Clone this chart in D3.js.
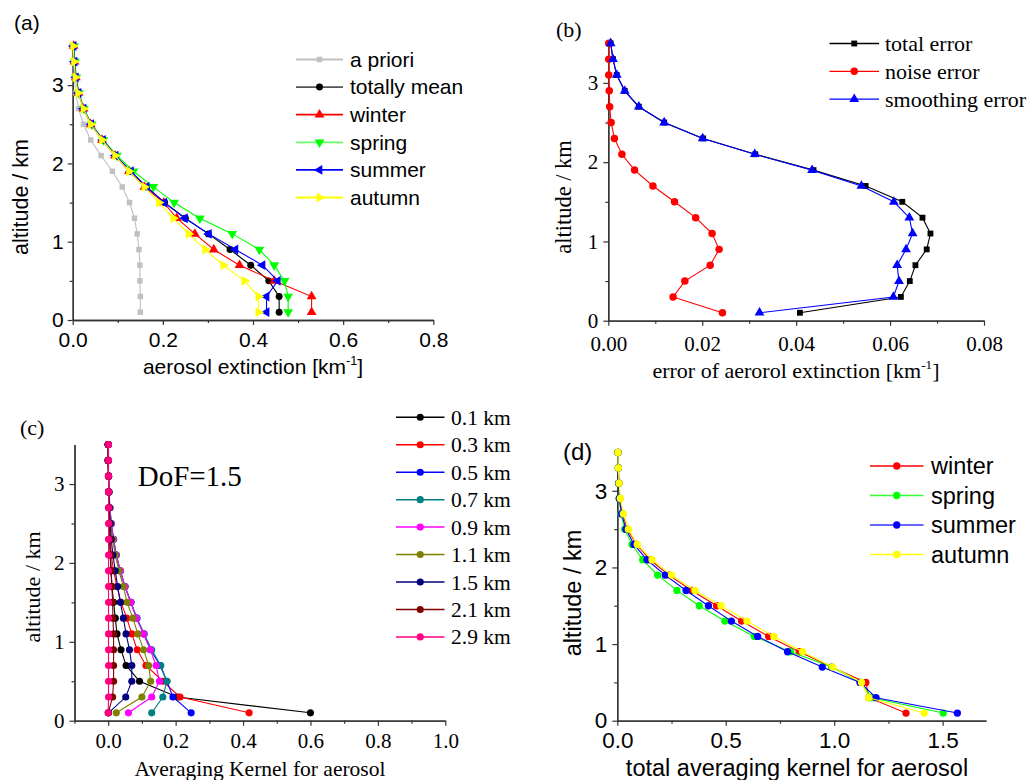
<!DOCTYPE html>
<html><head><meta charset="utf-8">
<script src="https://cdn.jsdelivr.net/npm/d3@7"></script>
<style>body{margin:0;background:#fff}svg{display:block}</style>
</head><body>
<svg id="chart" width="1030" height="780"></svg>
<script>
// ---------- DATA ----------
const altitudes = [0.1,0.3,0.5,0.7,0.9,1.1,1.3,1.5,1.7,1.9,2.1,2.3,2.5,2.7,2.9,3.1,3.3,3.5];

// (a) aerosol extinction [km-1]
const aPriori     = [0.150,0.150,0.149,0.149,0.147,0.143,0.137,0.126,0.110,0.088,0.063,0.040,0.024,0.013,0.007,0.004,0.002,0.001];
const totallyMean = [0.458,0.458,0.435,0.395,0.349,0.301,0.250,0.204,0.164,0.127,0.095,0.067,0.041,0.024,0.013,0.007,0.004,0.002];
const winterExt   = [0.530,0.530,0.447,0.370,0.313,0.271,0.231,0.202,0.159,0.125,0.094,0.065,0.040,0.024,0.013,0.007,0.004,0.002];
const springExt   = [0.478,0.478,0.470,0.447,0.414,0.354,0.282,0.225,0.179,0.135,0.098,0.068,0.042,0.025,0.014,0.008,0.005,0.003];
const summerExt   = [0.430,0.430,0.455,0.421,0.361,0.302,0.249,0.203,0.164,0.129,0.095,0.067,0.041,0.024,0.013,0.007,0.004,0.002];
const autumnExt   = [0.412,0.412,0.381,0.334,0.294,0.257,0.223,0.191,0.159,0.125,0.094,0.065,0.040,0.024,0.012,0.006,0.003,0.001];
const legendA = ["a priori","totally mean","winter","spring","summer","autumn"];

// (b) errors
const totalError     = [0.0408,0.0623,0.0642,0.0654,0.0678,0.0686,0.0669,0.0626,0.0548,0.0437,0.0313,0.0202,0.0119,0.0065,0.0035,0.0018,0.0010,0.0005];
const noiseError     = [0.0243,0.0138,0.0163,0.0217,0.0236,0.0221,0.0186,0.0141,0.0095,0.0056,0.0029,0.0013,0.0006,0.0003,0.0002,0.0001,0.0001,0.0001];
const smoothingError = [0.0322,0.0607,0.0619,0.0615,0.0634,0.0648,0.0641,0.0608,0.0539,0.0434,0.0312,0.0201,0.0119,0.0065,0.0035,0.0018,0.0010,0.0005];
const legendB = ["total error","noise error","smoothing error"];

// (c) averaging kernels
const ak01 = [0.600,0.205,0.093,0.053,0.038,0.026,0.021,0.016,0.011,0.008,0.006,0.004,0.003,0.002,0.001,0.001,0.000,0.000];
const ak03 = [0.418,0.213,0.162,0.112,0.086,0.070,0.055,0.038,0.026,0.016,0.009,0.006,0.004,0.002,0.001,0.001,0.000,0.000];
const ak05 = [0.246,0.192,0.174,0.154,0.126,0.105,0.085,0.067,0.050,0.036,0.024,0.016,0.009,0.005,0.002,0.001,0.000,0.000];
const ak07 = [0.129,0.162,0.174,0.156,0.129,0.107,0.085,0.068,0.050,0.036,0.024,0.016,0.009,0.005,0.002,0.001,0.000,0.000];
const ak09 = [0.060,0.129,0.152,0.142,0.125,0.105,0.083,0.067,0.049,0.036,0.023,0.015,0.009,0.005,0.002,0.001,0.000,0.000];
const ak11 = [0.024,0.100,0.126,0.120,0.105,0.088,0.073,0.056,0.045,0.032,0.021,0.013,0.007,0.004,0.002,0.001,0.000,0.000];
const ak15 = [0.001,0.052,0.070,0.070,0.063,0.053,0.045,0.036,0.028,0.021,0.014,0.009,0.006,0.003,0.002,0.001,0.000,0.000];
const ak21 = [0.000,0.013,0.016,0.016,0.016,0.016,0.014,0.013,0.011,0.009,0.007,0.005,0.003,0.002,0.001,0.001,0.000,0.000];
const ak29 = [0.000,0.001,0.001,0.001,0.001,0.001,0.001,0.001,0.001,0.001,0.001,0.001,0.001,0.001,0.001,0.001,0.001,0.001];
const legendC = ["0.1 km","0.3 km","0.5 km","0.7 km","0.9 km","1.1 km","1.5 km","2.1 km","2.9 km"];

// (d) total averaging kernel
const winterAK = [1.331,1.160,1.146,0.988,0.839,0.698,0.573,0.458,0.343,0.238,0.151,0.089,0.046,0.025,0.012,0.008,0.005,0.003];
const springAK = [1.503,1.173,1.122,0.988,0.799,0.632,0.496,0.378,0.275,0.186,0.117,0.068,0.034,0.017,0.009,0.006,0.005,0.003];
const summerAK = [1.568,1.193,1.119,0.945,0.785,0.647,0.526,0.420,0.317,0.221,0.137,0.077,0.040,0.020,0.009,0.006,0.005,0.003];
const autumnAK = [1.415,1.159,1.126,0.993,0.854,0.722,0.598,0.478,0.358,0.250,0.160,0.092,0.051,0.028,0.014,0.008,0.005,0.003];
const legendD = ["winter","spring","summer","autumn"];

// ---------- DRAWING ----------
const svg = d3.select("#chart");
const SANS = "'Liberation Sans', Arial, sans-serif";
const SERIF = "'Liberation Serif', 'Times New Roman', serif";
const AXIS = "#333";

const rotations = {up:0, down:180, left:-90, right:90};
function symbolPath(shape, size) {
  const t = shape === "square" ? d3.symbolSquare : shape === "circle" ? d3.symbolCircle : d3.symbolTriangle;
  return d3.symbol().type(t).size(size)();
}
function symbolRot(shape) { return rotations[shape] !== undefined ? rotations[shape] : 0; }

function panel(cfg) {
  const g = svg.append("g");
  const x = d3.scaleLinear().domain(cfg.xd).range(cfg.xr);
  const y = d3.scaleLinear().domain(cfg.yd).range(cfg.yr);
  const y0 = cfg.yr[0], x0 = cfg.xr[0];
  const fs = cfg.tickFs;

  // minor ticks
  g.append("g").attr("transform", `translate(0,${y0})`)
    .call(d3.axisBottom(x).tickValues(cfg.xMinor).tickSize(3).tickSizeOuter(0).tickFormat(""));
  g.append("g").attr("transform", `translate(${x0},0)`)
    .call(d3.axisLeft(y).tickValues(cfg.yMinor).tickSize(3).tickSizeOuter(0).tickFormat(""));
  // major ticks
  g.append("g").attr("transform", `translate(0,${y0})`)
    .call(d3.axisBottom(x).tickValues(cfg.xMajor).tickSize(5).tickSizeOuter(0)
      .tickPadding(cfg.xLabelOff - 0.36 * fs - 5).tickFormat(cfg.xFmt));
  g.append("g").attr("transform", `translate(${x0},0)`)
    .call(d3.axisLeft(y).tickValues(cfg.yMajor).tickSize(5).tickSizeOuter(0)
      .tickPadding(cfg.yLabelGap).tickFormat(d3.format("d")));
  g.selectAll(".domain").attr("stroke", AXIS).attr("stroke-width", 1.3);
  g.selectAll(".tick line").attr("stroke", AXIS).attr("stroke-width", 1.2);
  g.selectAll(".tick text").attr("font-family", cfg.font).attr("font-size", fs).attr("fill", "#000");

  // series
  const line = d3.line().x(d => x(d.v)).y(d => y(d.a));
  cfg.series.forEach(s => {
    const pts = s.values.map((v, i) => ({v, a: altitudes[i]}));
    const sg = g.append("g");
    sg.append("path").attr("d", line(pts)).attr("fill", "none")
      .attr("stroke", s.color).attr("stroke-width", cfg.lw || 1.1);
    sg.selectAll("path.m").data(pts).join("path").attr("class", "m")
      .attr("d", symbolPath(s.shape, s.size || cfg.msize))
      .attr("transform", d => `translate(${x(d.v)},${y(d.a)}) rotate(${symbolRot(s.shape)})`)
      .attr("fill", s.color);
  });

  // legend
  const L = cfg.legend;
  cfg.series.forEach((s, i) => {
    const ry = L.y0 + i * L.dy;
    g.append("line").attr("x1", L.x1).attr("x2", L.x2).attr("y1", ry).attr("y2", ry)
      .attr("stroke", s.legendColor || s.color).attr("stroke-width", L.lw || 1.5);
    g.append("path").attr("d", symbolPath(s.shape, s.size || cfg.msize))
      .attr("transform", `translate(${(L.x1 + L.x2) / 2},${ry}) rotate(${symbolRot(s.shape)})`)
      .attr("fill", s.legendMarker || s.color);
    g.append("text").attr("x", L.tx).attr("y", ry).attr("dy", "0.35em")
      .attr("font-family", cfg.font).attr("font-size", L.fs).text(s.name);
  });

  // panel label
  g.append("text").attr("x", cfg.label.x).attr("y", cfg.label.y).attr("dy", "0.35em")
    .attr("font-family", cfg.font).attr("font-size", cfg.label.fs).text(cfg.label.t);

  // y title
  g.append("text").attr("transform", `translate(${cfg.yTitle.x},${cfg.yTitle.y}) rotate(-90)`)
    .attr("text-anchor", "middle").attr("dy", "0.35em")
    .attr("font-family", cfg.font).attr("font-size", cfg.yTitle.fs).text("altitude / km");

  // x title
  const xt = g.append("text").attr("x", cfg.xTitle.x).attr("y", cfg.xTitle.y)
    .attr("text-anchor", "middle").attr("font-family", cfg.font).attr("font-size", cfg.xTitle.fs);
  if (cfg.xTitle.sup) {
    xt.append("tspan").text(cfg.xTitle.t);
    xt.append("tspan").attr("dy", -cfg.xTitle.fs * 0.42).attr("font-size", cfg.xTitle.fs * 0.6).text("-1");
    xt.append("tspan").attr("dy", cfg.xTitle.fs * 0.42).text("]");
  } else {
    xt.text(cfg.xTitle.t);
  }
  return {g, x, y};
}

// (a)
const pa = panel({
  font: SANS, tickFs: 21,
  xd: [0, 0.8], xr: [72.7, 433.3], yd: [0, 3.5], yr: [320, 46],
  xMajor: [0, 0.2, 0.4, 0.6, 0.8], xMinor: [0.1, 0.3, 0.5, 0.7],
  yMajor: [0, 1, 2, 3], yMinor: [0.5, 1.5, 2.5],
  xFmt: d3.format(".1f"), xLabelOff: 20, yLabelGap: 4,
  msize: 42, lw: 1.1,
  series: [
    {name: legendA[0], values: aPriori, color: "#c0c0c0", shape: "square", size: 30},
    {name: legendA[1], values: totallyMean, color: "#000", shape: "circle", size: 38, legendColor: "#555"},
    {name: legendA[2], values: winterExt, color: "#ff0000", shape: "up"},
    {name: legendA[3], values: springExt, color: "#00ff00", shape: "down", legendColor: "#66ff66"},
    {name: legendA[4], values: summerExt, color: "#0000ff", shape: "left"},
    {name: legendA[5], values: autumnExt, color: "#ffff00", shape: "right"}
  ],
  legend: {x1: 296, x2: 343, tx: 350, y0: 59.5, dy: 27.6, fs: 21, lw: 1.8},
  label: {x: 14, y: 23, fs: 21, t: "(a)"},
  yTitle: {x: 20, y: 197, fs: 21.5},
  xTitle: {x: 253, y: 374, fs: 21, t: "aerosol extinction [km", sup: true}
});

// (b)
const pb = panel({
  font: SERIF, tickFs: 21,
  xd: [0, 0.08], xr: [608.3, 984], yd: [0, 3.5], yr: [320.7, 43.3],
  xMajor: [0, 0.02, 0.04, 0.06, 0.08], xMinor: [0.01, 0.03, 0.05, 0.07],
  yMajor: [0, 1, 2, 3], yMinor: [0.5, 1.5, 2.5],
  xFmt: d3.format(".2f"), xLabelOff: 22.6, yLabelGap: 5,
  msize: 36, lw: 1.1,
  series: [
    {name: legendB[0], values: totalError, color: "#000", shape: "square", size: 34},
    {name: legendB[1], values: noiseError, color: "#ff0000", shape: "circle", size: 44},
    {name: legendB[2], values: smoothingError, color: "#0000ff", shape: "up", size: 42}
  ],
  legend: {x1: 829.5, x2: 879, tx: 885, y0: 43.5, dy: 27.8, fs: 22, lw: 1.3},
  label: {x: 556, y: 29, fs: 22, t: "(b)"},
  yTitle: {x: 563, y: 197, fs: 22.5},
  xTitle: {x: 796, y: 378, fs: 22, t: "error of aerorol extinction [km", sup: true}
});

// (c)
const pc = panel({
  font: SERIF, tickFs: 21,
  xd: [-0.1, 1.0], xr: [74.5, 445.3], yd: [0, 3.5], yr: [720.7, 444.6],
  xMajor: [0, 0.2, 0.4, 0.6, 0.8, 1.0], xMinor: [-0.1, 0.1, 0.3, 0.5, 0.7, 0.9],
  yMajor: [0, 1, 2, 3], yMinor: [0.5, 1.5, 2.5],
  xFmt: d3.format(".1f"), xLabelOff: 19.5, yLabelGap: 5,
  msize: 40, lw: 1.1,
  series: [
    {name: legendC[0], values: ak01, color: "#000000", shape: "circle"},
    {name: legendC[1], values: ak03, color: "#ff0000", shape: "circle"},
    {name: legendC[2], values: ak05, color: "#0000ff", shape: "circle"},
    {name: legendC[3], values: ak07, color: "#008080", shape: "circle"},
    {name: legendC[4], values: ak09, color: "#ff00ff", shape: "circle"},
    {name: legendC[5], values: ak11, color: "#808000", shape: "circle"},
    {name: legendC[6], values: ak15, color: "#000080", shape: "circle"},
    {name: legendC[7], values: ak21, color: "#800000", shape: "circle"},
    {name: legendC[8], values: ak29, color: "#ff0080", shape: "circle"}
  ],
  legend: {x1: 396, x2: 444.5, tx: 451, y0: 417.3, dy: 27.45, fs: 21.5, lw: 1.5},
  label: {x: 20, y: 427, fs: 22, t: "(c)"},
  yTitle: {x: 32, y: 587, fs: 22},
  xTitle: {x: 260, y: 776, fs: 21.5, t: "Averaging Kernel for aerosol"}
});
pc.g.append("text").attr("x", 137.7).attr("y", 476).attr("dy", "0.35em")
  .attr("font-family", SERIF).attr("font-size", 29).text("DoF=1.5");

// (d)
const pd = panel({
  font: SANS, tickFs: 22.5,
  xd: [0, 1.7], xr: [617.3, 986], yd: [0, 3.5], yr: [720.7, 452.5],
  xMajor: [0, 0.5, 1.0, 1.5], xMinor: [0.25, 0.75, 1.25],
  yMajor: [0, 1, 2, 3], yMinor: [0.5, 1.5, 2.5],
  xFmt: d3.format(".1f"), xLabelOff: 19.5, yLabelGap: 5,
  msize: 42, lw: 1.1,
  series: [
    {name: legendD[0], values: winterAK, color: "#ff0000", shape: "circle"},
    {name: legendD[1], values: springAK, color: "#00ff00", shape: "circle", legendColor: "#33ff33"},
    {name: legendD[2], values: summerAK, color: "#0000ff", shape: "circle", legendColor: "#3333ff"},
    {name: legendD[3], values: autumnAK, color: "#ffff00", shape: "circle"}
  ],
  legend: {x1: 870, x2: 923.5, tx: 931, y0: 466, dy: 29.5, fs: 23.5, lw: 1.4},
  label: {x: 563, y: 452, fs: 24, t: "(d)"},
  yTitle: {x: 573, y: 593, fs: 23.5},
  xTitle: {x: 797, y: 775.5, fs: 23.5, t: "total averaging kernel for aerosol"}
});
</script>
</body></html>
